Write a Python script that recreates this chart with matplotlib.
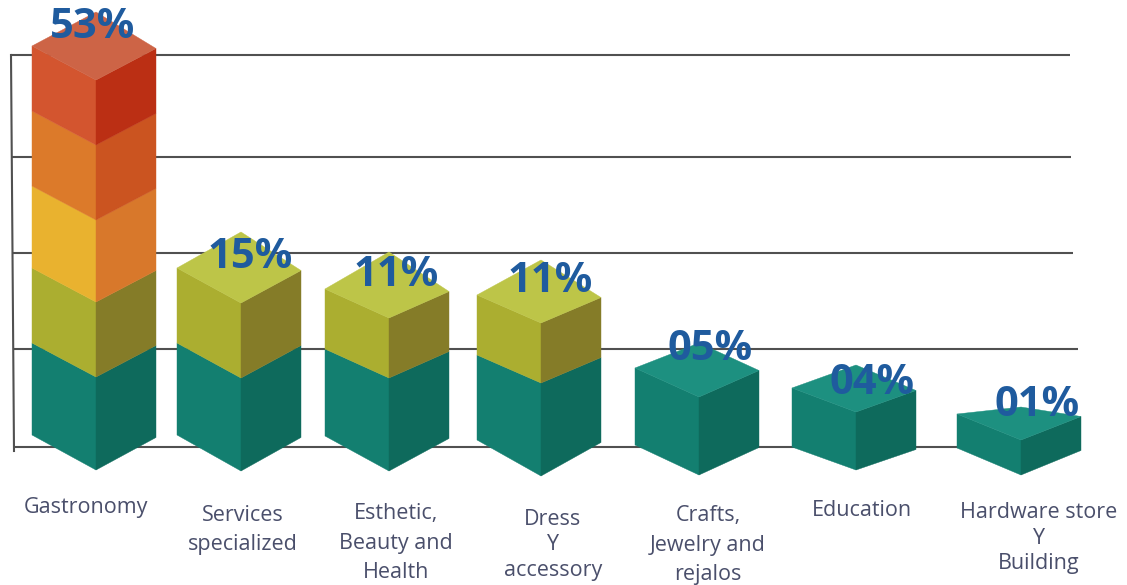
import numpy as np
from matplotlib import pyplot as plt
from matplotlib.patches import Polygon

categories = ["Gastronomy", "Services\nspecialized", "Esthetic,\nBeauty and\nHealth", "Dress\nY\naccessory",
              "Crafts,\nJewelry and\nrejalos", "Education", "Hardware store\nY\nBuilding"]
shares = [53, 15, 11, 11, 5, 4, 1]

# pictorial scale of the column heights (share in %, height in pixels)
scale_shares = [0, 1, 4, 5, 6, 11, 15, 26, 40, 53]
scale_heights = [0, 35, 58, 78, 93, 153, 168, 250, 325, 390]

# the colour changes at these shares
band_edges = [0, 6, 15, 26, 40, 53]
band_front = ["#137f70", "#abae30", "#e9b22f", "#dc7a2a", "#d3552f"]
band_side = ["#0e6a5c", "#857c28", "#d8782b", "#cb5420", "#bb2f14"]
band_top = ["#1d9080", "#bdc548", "#edc24a", "#e08a3c", "#cd6446"]

# layout, pixels
centers = [96, 241, 389, 541, 699, 856, 1021]
base_y = [470, 471, 471, 476, 475, 470, 475]
left_w = 64
right_w = 60
right_lift = 2.5
base_depths = [35, 36, 35, 36, 30, 23, 27]
depths = [34, 35, 29, 28, 29, 24, 26]
back_rise = [68, 71, 66, 63, 54, 47, 33]
grid_y = [55, 157, 253, 349, 447]
grid_start = [11, 12, 13, 13, 13]
grid_end = [1070, 1071, 1073, 1078, 1078]
label_pos = [(93, 28), (250, 258), (396, 275), (550, 282), (710, 349), (872, 384), (1037, 405)]
name_pos = [(86, 508), (243, 530), (396, 543), (553, 545), (708, 545), (862, 511), (1039, 538)]
name_spacing = [1.2, 1.55, 1.52, 1.3, 1.53, 1.2, 1.26]

plt.rcParams['font.family'] = ['Open Sans', 'DejaVu Sans']


def height_of(share):
    return np.interp(share, scale_shares, scale_heights)


fig = plt.figure(figsize=(11.27, 5.85), dpi=100)
ax = fig.add_axes([0, 0, 1, 1])
ax.set_xlim(0, 1127)
ax.set_ylim(585, 0)
ax.axis('off')

# frame and horizontal lines behind the columns
ax.hlines(grid_y, grid_start, grid_end, color="#505050", lw=1.5, zorder=1)
ax.plot([11, 14], [grid_y[0], grid_y[-1] + 4], color="#505050", lw=1.5, zorder=1)

for i, share in enumerate(shares):
    cx, y0, d = centers[i], base_y[i], depths[i]
    left, right = cx - left_w, cx + right_w
    total = height_of(share)

    # stacked faces, cut where the colour changes
    for b in range(len(band_front)):
        if share <= band_edges[b]:
            break
        lo = height_of(band_edges[b])
        hi = min(total, height_of(band_edges[b + 1]))
        d_lo = base_depths[i] if b == 0 else d
        ax.add_patch(Polygon([(left, y0 - d_lo - lo), (cx, y0 - lo), (cx, y0 - hi), (left, y0 - d - hi)],
                             fc=band_front[b], ec=band_front[b], lw=0.3, zorder=3))
        ax.add_patch(Polygon([(cx, y0 - lo), (right, y0 - d_lo - lo + right_lift),
                              (right, y0 - d - hi + right_lift), (cx, y0 - hi)],
                             fc=band_side[b], ec=band_side[b], lw=0.3, zorder=3))
        top_band = b

    # top face
    ax.add_patch(Polygon([(left, y0 - d - total), (cx, y0 - total), (right, y0 - d - total + right_lift),
                          (cx, y0 - back_rise[i] - total)],
                         fc=band_top[top_band], ec=band_top[top_band], lw=0.3, zorder=3))

    lx, ly = label_pos[i]
    ax.text(lx, ly, f"{share:02d}%", color="#1f5b9e", fontsize=30, fontweight='bold',
            ha='center', va='center', zorder=5)
    nx, ny = name_pos[i]
    ax.text(nx, ny, categories[i], color="#4a4f6b", fontsize=15.5, ha='center', va='center',
            linespacing=name_spacing[i], zorder=5)

fig.savefig("out.png", dpi=100)
